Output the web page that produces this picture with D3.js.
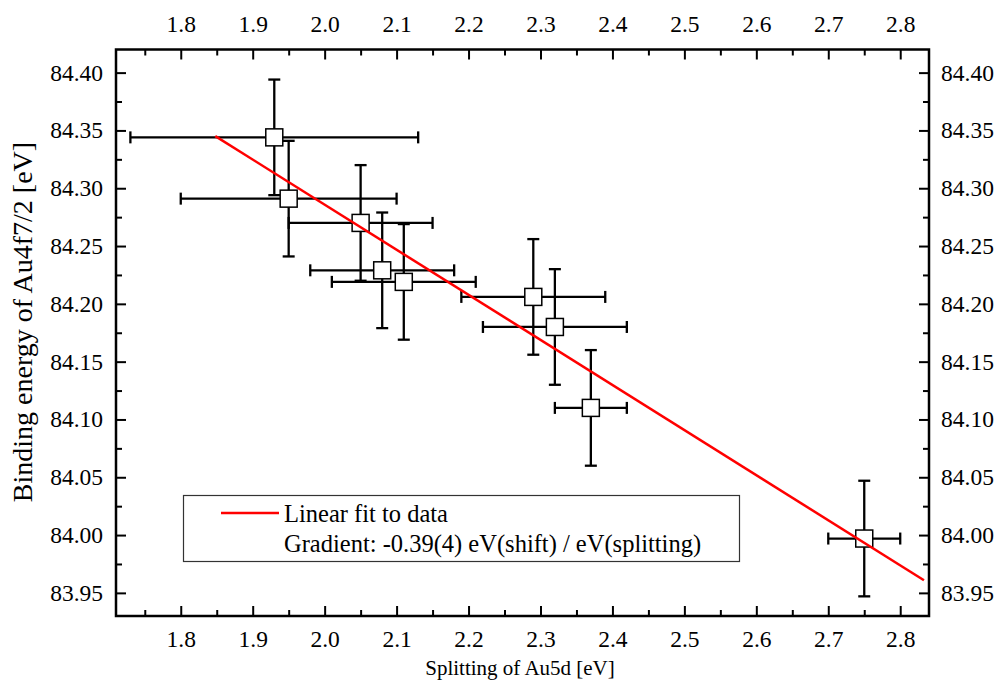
<!DOCTYPE html>
<html>
<head>
<meta charset="utf-8">
<script src="https://cdn.jsdelivr.net/npm/d3@7/dist/d3.min.js"></script>
<style>
  html, body { margin: 0; padding: 0; background: #fff; }
  svg { display: block; font-family: "Liberation Serif", "Times New Roman", serif; }
</style>
</head>
<body>
<svg id="chart" width="1000" height="686"></svg>
<script>
// Au5d splitting vs Au4f7/2 binding energy
const splitting   = [1.93, 1.95, 2.05, 2.08, 2.11, 2.29, 2.32, 2.37, 2.75];
const splitErr    = [0.20, 0.15, 0.10, 0.10, 0.10, 0.10, 0.10, 0.05, 0.05];
const binding     = [84.344, 84.291, 84.270, 84.229, 84.219, 84.206, 84.180, 84.110, 83.997];
const bindingErr  = [0.05, 0.05, 0.05, 0.05, 0.05, 0.05, 0.05, 0.05, 0.05];

// linear fit: E = fitIntercept + fitSlope * splitting
const fitSlope = -0.39;
const fitIntercept = 85.0658;
const fitRange = [1.848, 2.833];

const xMajor = [1.8, 1.9, 2.0, 2.1, 2.2, 2.3, 2.4, 2.5, 2.6, 2.7, 2.8];
const xMinor = [1.75, 1.85, 1.95, 2.05, 2.15, 2.25, 2.35, 2.45, 2.55, 2.65, 2.75];
const yMajor = [83.95, 84.00, 84.05, 84.10, 84.15, 84.20, 84.25, 84.30, 84.35, 84.40];
const yMinor = [83.975, 84.025, 84.075, 84.125, 84.175, 84.225, 84.275, 84.325, 84.375];

const legendLabels = ["Linear fit to data", "Gradient: -0.39(4) eV(shift) / eV(splitting)"];
const xTitle = "Splitting of Au5d [eV]";
const yTitle = "Binding energy of Au4f7/2 [eV]";

const svg = d3.select("#chart");
const L = 116, R = 929, T = 49.5, B = 616;

const x = d3.scaleLinear().domain([1.71, 2.84]).range([L, R]);
const y = d3.scaleLinear().domain([83.93, 84.42]).range([B, T]);

const tickFont = 23.5;

function styleAxis(g) {
  g.select(".domain").remove();
  g.selectAll(".tick line").attr("stroke", "#000").attr("stroke-width", 2);
  g.selectAll(".tick text").attr("font-size", tickFont).attr("font-family", "Liberation Serif, Times New Roman, serif").attr("fill", "#000");
}

// bottom axis
svg.append("g").attr("transform", `translate(0,${B})`)
  .call(d3.axisBottom(x).tickValues(xMinor).tickSize(-6).tickFormat(""))
  .call(styleAxis);
svg.append("g").attr("transform", `translate(0,${B})`)
  .call(d3.axisBottom(x).tickValues(xMajor).tickSize(-10).tickPadding(14).tickFormat(d3.format(".1f")))
  .call(styleAxis);

// top axis
svg.append("g").attr("transform", `translate(0,${T})`)
  .call(d3.axisTop(x).tickValues(xMinor).tickSize(-6).tickFormat(""))
  .call(styleAxis);
svg.append("g").attr("transform", `translate(0,${T})`)
  .call(d3.axisTop(x).tickValues(xMajor).tickSize(-10).tickPadding(18).tickFormat(d3.format(".1f")))
  .call(styleAxis);

// left axis
svg.append("g").attr("transform", `translate(${L},0)`)
  .call(d3.axisLeft(y).tickValues(yMinor).tickSize(-6).tickFormat(""))
  .call(styleAxis);
svg.append("g").attr("transform", `translate(${L},0)`)
  .call(d3.axisLeft(y).tickValues(yMajor).tickSize(-10).tickPadding(13).tickFormat(d3.format(".2f")))
  .call(styleAxis);

// right axis
svg.append("g").attr("transform", `translate(${R},0)`)
  .call(d3.axisRight(y).tickValues(yMinor).tickSize(-6).tickFormat(""))
  .call(styleAxis);
svg.append("g").attr("transform", `translate(${R},0)`)
  .call(d3.axisRight(y).tickValues(yMajor).tickSize(-10).tickPadding(12).tickFormat(d3.format(".2f")))
  .call(styleAxis);

// frame
svg.append("rect")
  .attr("x", L).attr("y", T).attr("width", R - L).attr("height", B - T)
  .attr("fill", "none").attr("stroke", "#000").attr("stroke-width", 2.5);

// axis titles
svg.append("text")
  .attr("x", 520).attr("y", 675)
  .attr("text-anchor", "middle").attr("font-size", 21)
  .text(xTitle);
svg.append("text")
  .attr("transform", `translate(32,322) rotate(-90)`)
  .attr("text-anchor", "middle").attr("font-size", 28)
  .text(yTitle);

// legend
const legendFont = 24.5;
const lg = svg.append("g");
lg.append("rect")
  .attr("x", 183.5).attr("y", 495.5).attr("width", 556).attr("height", 66)
  .attr("fill", "#fff").attr("stroke", "#333").attr("stroke-width", 1.2);
lg.append("line")
  .attr("x1", 221).attr("x2", 279).attr("y1", 513).attr("y2", 513)
  .attr("stroke", "#ff0000").attr("stroke-width", 2.5);
lg.selectAll("text.lt").data(legendLabels).enter().append("text")
  .attr("class", "lt")
  .attr("x", 284).attr("y", (d, i) => 521.5 + i * 30)
  .attr("font-size", legendFont)
  .text(d => d);

// data
const pts = splitting.map((s, i) => ({ s, e: binding[i], se: splitErr[i], be: bindingErr[i] }));
const cap = 6;
const eb = svg.append("g").attr("stroke", "#000").attr("stroke-width", 2.3).attr("fill", "none");
pts.forEach(p => {
  const cx = x(p.s), cy = y(p.e);
  const x0 = x(p.s - p.se), x1 = x(p.s + p.se);
  const y0 = y(p.e - p.be), y1 = y(p.e + p.be);
  eb.append("line").attr("x1", x0).attr("x2", x1).attr("y1", cy).attr("y2", cy);
  eb.append("line").attr("x1", x0).attr("x2", x0).attr("y1", cy - cap).attr("y2", cy + cap);
  eb.append("line").attr("x1", x1).attr("x2", x1).attr("y1", cy - cap).attr("y2", cy + cap);
  eb.append("line").attr("x1", cx).attr("x2", cx).attr("y1", y0).attr("y2", y1);
  eb.append("line").attr("x1", cx - cap).attr("x2", cx + cap).attr("y1", y0).attr("y2", y0);
  eb.append("line").attr("x1", cx - cap).attr("x2", cx + cap).attr("y1", y1).attr("y2", y1);
});

const sq = 17;
svg.append("g").selectAll("rect").data(pts).enter().append("rect")
  .attr("x", d => x(d.s) - sq / 2).attr("y", d => y(d.e) - sq / 2)
  .attr("width", sq).attr("height", sq)
  .attr("fill", "#fff").attr("stroke", "#000").attr("stroke-width", 1.5);

// fit line
const fitPts = fitRange.map(v => [v, fitIntercept + fitSlope * v]);
svg.append("path")
  .attr("d", d3.line().x(d => x(d[0])).y(d => y(d[1]))(fitPts))
  .attr("stroke", "#ff0000").attr("stroke-width", 2.5).attr("fill", "none");
</script>
</body>
</html>
